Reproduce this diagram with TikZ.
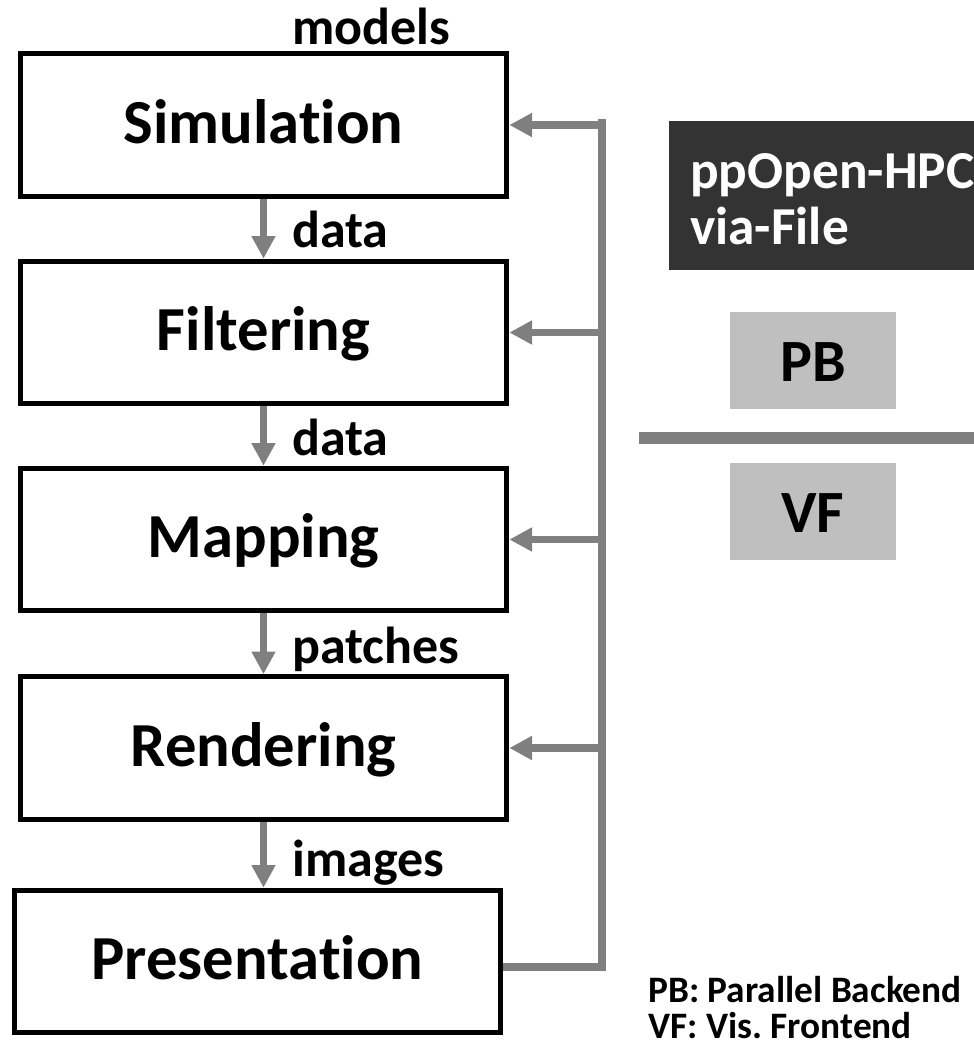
\documentclass[tikz,border=0pt]{standalone}
\usepackage{fontspec}
\setmainfont{Carlito}[Ligatures={NoCommon,NoContextual}]
\usetikzlibrary{arrows.meta}
\definecolor{lg}{HTML}{7F7F7F}
\definecolor{dk}{HTML}{333333}
\definecolor{lb}{HTML}{BFBFBF}
\frenchspacing
\begin{document}
\begin{tikzpicture}[x=0.75pt,y=-0.75pt,
  stage/.style={draw=black,line width=3.75pt,fill=white,minimum width=365pt,minimum height=107pt,inner sep=0pt,
    font=\fontsize{47}{56}\selectfont\bfseries,text height=33pt,text depth=6pt},
  lbl/.style={anchor=base west,inner sep=0pt,font=\fontsize{39}{47}\selectfont\bfseries},
  flow/.style={draw=lg,line width=5.5pt,-{Triangle[length=17pt,width=17pt]}},
  fb/.style={draw=lg,line width=5.5pt},
  grey box/.style={fill=lb,minimum width=124.5pt,minimum height=72.75pt,inner sep=0pt,
    font=\fontsize{45}{54}\selectfont\bfseries,text height=33pt,text depth=1.5pt},
  hpctext/.style={anchor=base west,inner sep=0pt,text=white,font=\fontsize{40}{48}\selectfont\bfseries},
  legend/.style={anchor=base west,inner sep=0pt,font=\fontsize{28}{34}\selectfont\bfseries}]
\useasboundingbox (0,0) rectangle (974,1047);

% stages
\node[stage] (sim)  at (263.5,125)   {Simulation};
\node[stage] (filt) at (263.5,332.5) {Filtering};
\node[stage] (map)  at (263.5,539.5) {Mapping};
\node[stage] (rend) at (263.5,748)   {Rendering};
\node[stage] (pres) at (257.5,961.5) {Presentation};

% labels
\node[lbl] (lmodels)  at (292,44)  {models};
\node[lbl] (ldata1)   at (292,247) {data};
\node[lbl] (ldata2)   at (292,455) {data};
\node[lbl] (lpatches) at (292,663) {patches};
\node[lbl] (limages)  at (292,876) {images};

% flow arrows
\draw[flow] (sim.south)  -- (filt.north);
\draw[flow] (filt.south) -- (map.north);
\draw[flow] (map.south)  -- (rend.north);
\draw[flow] (rend.south) -- (rend.south |- pres.north);

% feedback bus
\coordinate (bt) at (602,119);
\coordinate (bb) at (602,967);
\draw[fb] (pres.east |- bb) -- (bb) -- (bt);
\draw[flow] (bt |- sim.east)  -- (sim.east);
\draw[flow] (bt |- filt.east) -- (filt.east);
\draw[flow] (bt |- map.east)  -- (map.east);
\draw[flow] (bt |- rend.east) -- (rend.east);

% right side
\node[fill=dk,minimum width=240pt,minimum height=111.75pt,inner sep=0pt,anchor=north west] (hpcbox) at (669,121) {};
\node[hpctext] (hpc1) at (690,188) {ppOpen-HPC};
\node[hpctext] (hpc2) at (690,244) {via-File};

\node[grey box] (pb) at (813,360.5) {PB};
\node[grey box] (vf) at (813,511.5) {VF};
\coordinate (sepl) at (639,438);
\coordinate (sepr) at (990,438);
\draw[lg,line width=9pt] (sepl) -- (sepr);

\node[legend] (leg1) at (648,1002) {PB: Parallel Backend};
\node[legend] (leg2) at (648,1038) {VF: Vis. Frontend};
\end{tikzpicture}
\end{document}
